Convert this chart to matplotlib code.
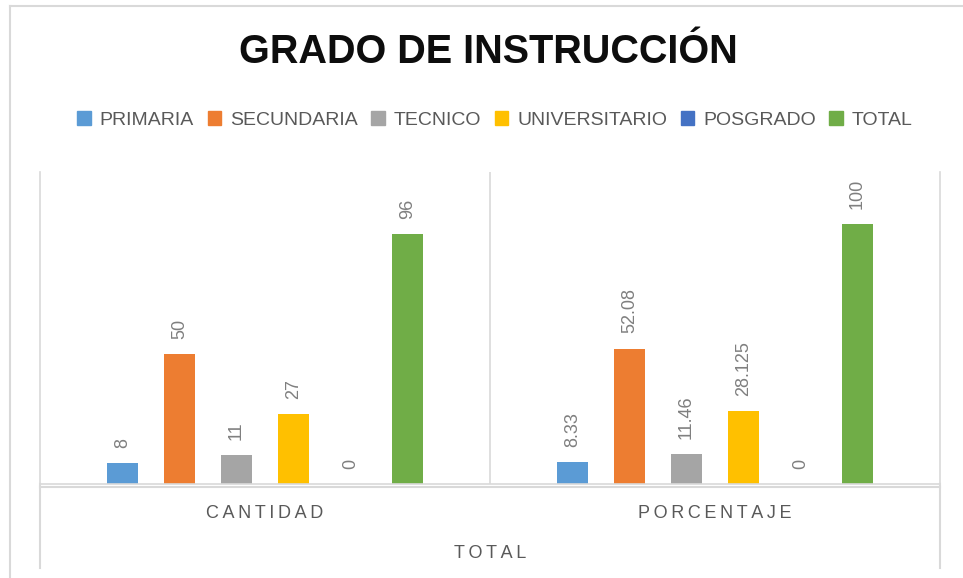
import matplotlib
matplotlib.use('Agg')
import matplotlib.pyplot as plt
import matplotlib.transforms as mtransforms
from matplotlib.patches import Patch
from matplotlib.lines import Line2D
import numpy as np

plt.rcParams['font.family'] = ['Liberation Sans', 'DejaVu Sans']

# datos
categorias = ['CANTIDAD', 'PORCENTAJE']
series = ['PRIMARIA', 'SECUNDARIA', 'TECNICO', 'UNIVERSITARIO', 'POSGRADO', 'TOTAL']
cantidad = [8, 50, 11, 27, 0, 96]
porcentaje = [8.33, 52.08, 11.46, 28.125, 0, 100]
grupo = 'TOTAL'
titulo = 'GRADO DE INSTRUCCIÓN'

colores = ['#5B9BD5', '#ED7D31', '#A5A5A5', '#FFC000', '#4472C4', '#70AD47']
gris_linea = '#D9D9D9'
gris_texto = '#595959'

W, H = 963, 578


def fx(px):
    return px / W


def fy(py):
    return 1 - py / H


def espaciado(s):
    # Excel usa espaciado entre letras en las etiquetas del eje
    return '\u2009'.join(s)


fig = plt.figure(figsize=(9.63, 5.78), dpi=100)
ax = fig.add_axes([fx(40), fy(484), fx(940) - fx(40), (484 - 172) / H])

valores = np.array([cantidad, porcentaje])  # (categoria, serie)
x = np.arange(len(categorias))
paso = 57 / 450
ancho = 31 / 450

for i, nombre in enumerate(series):
    pos = x + (i - (len(series) - 1) / 2) * paso
    ax.bar(pos, valores[:, i], width=ancho, color=colores[i], label=nombre)
    for xp, v in zip(pos, valores[:, i]):
        ax.annotate(f'{v:g}', (xp, v), xytext=(0, 11), textcoords='offset points',
                    rotation=90, ha='center', va='bottom', fontsize=13, color='#7F7F7F')

ax.set_xlim(-0.5, len(categorias) - 0.5)
ax.set_ylim(0, 120)
ax.set_xticks([])
ax.set_yticks([])
ax.spines['top'].set_visible(False)
for s in ['left', 'right', 'bottom']:
    ax.spines[s].set_color(gris_linea)
    ax.spines[s].set_linewidth(1.2)
for k in range(1, len(categorias)):
    ax.axvline(k - 0.5, color=gris_linea, lw=1.2)

# etiquetas de categoria y grupo
tr = mtransforms.blended_transform_factory(ax.transData, fig.transFigure)
for xi, c in zip(x, categorias):
    ax.text(xi, fy(513), espaciado(c), transform=tr, ha='center', va='center',
            fontsize=13, color=gris_texto)
fig.text(fx(490), fy(553), espaciado(grupo), ha='center', va='center',
         fontsize=13, color=gris_texto)

# lineas del eje de varios niveles y borde del grafico
lineas = [
    ([fx(40), fx(940)], [fy(487), fy(487)]),
    ([fx(40), fx(40)], [fy(484), fy(568)]),
    ([fx(940), fx(940)], [fy(484), fy(568)]),
    ([fx(9.5), fx(9.5)], [fy(5.5), 0]),
    ([fx(9.5), 1], [fy(5.5), fy(5.5)]),
]
for xs, ys in lineas:
    fig.add_artist(Line2D(xs, ys, color=gris_linea, lw=1.5, transform=fig.transFigure))

fig.text(fx(488), fy(52), titulo, ha='center', va='center', fontsize=28.5,
         fontweight='bold', color='#0D0D0D')

handles = [Patch(color=c) for c in colores]
fig.legend(handles, series, loc='center', bbox_to_anchor=(fx(495), fy(120)), ncol=6,
           frameon=False, fontsize=14, handlelength=0.7, handleheight=0.7,
           handletextpad=0.45, columnspacing=0.7, labelcolor=gris_texto,
           borderaxespad=0)

fig.savefig('out.png', dpi=100)
